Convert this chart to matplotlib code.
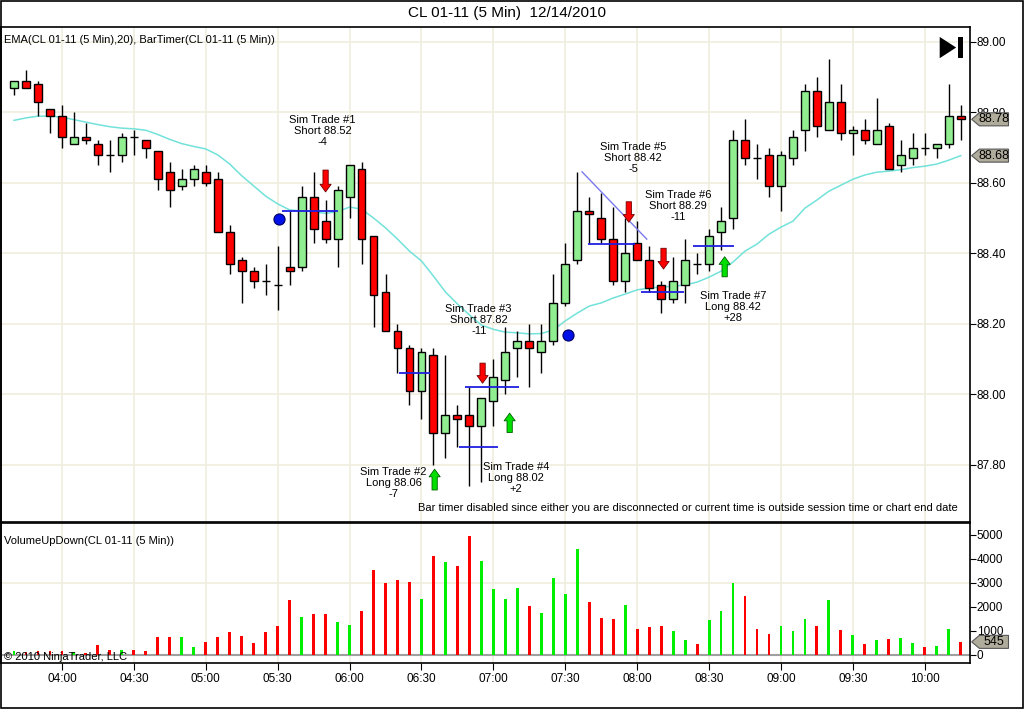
import numpy as np
import pandas as pd
import matplotlib
matplotlib.use('Agg')
import matplotlib.pyplot as plt
import matplotlib.transforms as mtransforms
from matplotlib.patches import Polygon, Rectangle
from matplotlib.text import Text

plt.rcParams['font.family'] = ['Liberation Sans', 'DejaVu Sans']

# 5 min bars, 03:40 .. 10:15
bar_times = pd.date_range('2010-12-14 03:40', periods=80, freq='5min')

opens = [88.87, 88.89, 88.88, 88.81, 88.79, 88.71, 88.73, 88.71, 88.68, 88.68,
         88.73, 88.72, 88.69, 88.63, 88.59, 88.61, 88.63, 88.61, 88.46, 88.38,
         88.35, 88.32, 88.31, 88.36, 88.36, 88.56, 88.49, 88.44, 88.56, 88.64,
         88.45, 88.29, 88.18, 88.13, 88.01, 88.11, 87.89, 87.94, 87.94, 87.91,
         87.98, 88.04, 88.13, 88.15, 88.12, 88.15, 88.26, 88.38, 88.52, 88.50,
         88.44, 88.32, 88.43, 88.38, 88.31, 88.27, 88.31, 88.37, 88.37, 88.46,
         88.50, 88.72, 88.67, 88.68, 88.59, 88.67, 88.75, 88.86, 88.75, 88.83,
         88.74, 88.75, 88.71, 88.76, 88.65, 88.67, 88.70, 88.70, 88.71, 88.79]
highs = [88.89, 88.92, 88.89, 88.81, 88.82, 88.80, 88.77, 88.72, 88.72, 88.74,
         88.75, 88.72, 88.69, 88.66, 88.64, 88.65, 88.65, 88.63, 88.48, 88.39,
         88.36, 88.37, 88.42, 88.52, 88.59, 88.63, 88.55, 88.59, 88.65, 88.66,
         88.45, 88.34, 88.20, 88.14, 88.13, 88.13, 88.11, 87.97, 88.02, 87.99,
         88.10, 88.19, 88.18, 88.20, 88.20, 88.34, 88.43, 88.63, 88.56, 88.57,
         88.53, 88.50, 88.49, 88.42, 88.32, 88.39, 88.44, 88.40, 88.47, 88.53,
         88.75, 88.78, 88.71, 88.70, 88.69, 88.75, 88.88, 88.90, 88.95, 88.88,
         88.76, 88.78, 88.84, 88.77, 88.72, 88.74, 88.74, 88.71, 88.88, 88.82]
lows = [88.85, 88.87, 88.79, 88.74, 88.70, 88.71, 88.71, 88.65, 88.63, 88.66,
        88.68, 88.67, 88.58, 88.53, 88.58, 88.59, 88.59, 88.46, 88.34, 88.26,
        88.30, 88.28, 88.24, 88.31, 88.35, 88.43, 88.43, 88.36, 88.50, 88.37,
        88.19, 88.18, 88.06, 87.97, 87.93, 87.80, 87.82, 87.85, 87.74, 87.75,
        87.91, 88.00, 88.05, 88.02, 88.06, 88.14, 88.25, 88.37, 88.43, 88.43,
        88.31, 88.29, 88.38, 88.29, 88.23, 88.26, 88.26, 88.34, 88.35, 88.41,
        88.47, 88.65, 88.61, 88.56, 88.52, 88.65, 88.69, 88.73, 88.75, 88.72,
        88.68, 88.71, 88.71, 88.64, 88.63, 88.65, 88.68, 88.67, 88.70, 88.72]
closes = [88.89, 88.87, 88.83, 88.79, 88.73, 88.73, 88.72, 88.68, 88.68, 88.73,
          88.73, 88.70, 88.61, 88.58, 88.61, 88.64, 88.60, 88.46, 88.37, 88.35,
          88.32, 88.32, 88.31, 88.35, 88.56, 88.47, 88.44, 88.58, 88.65, 88.44,
          88.28, 88.18, 88.13, 88.01, 88.12, 87.89, 87.94, 87.93, 87.91, 87.99,
          88.05, 88.12, 88.15, 88.13, 88.15, 88.26, 88.37, 88.52, 88.51, 88.44,
          88.32, 88.40, 88.38, 88.30, 88.27, 88.32, 88.38, 88.37, 88.45, 88.49,
          88.72, 88.67, 88.67, 88.59, 88.68, 88.73, 88.86, 88.76, 88.83, 88.74,
          88.75, 88.72, 88.75, 88.64, 88.68, 88.70, 88.70, 88.71, 88.79, 88.78]

ema20 = [88.777, 88.784, 88.789, 88.789, 88.786, 88.779, 88.772, 88.765, 88.759, 88.755,
         88.753, 88.749, 88.737, 88.723, 88.711, 88.703, 88.696, 88.679, 88.653, 88.620,
         88.591, 88.562, 88.540, 88.523, 88.520, 88.518, 88.513, 88.518, 88.531, 88.525,
         88.500, 88.472, 88.440, 88.406, 88.378, 88.335, 88.290, 88.256, 88.225, 88.196,
         88.184, 88.176, 88.174, 88.171, 88.172, 88.182, 88.208, 88.230, 88.250, 88.259,
         88.273, 88.284, 88.296, 88.301, 88.304, 88.306, 88.310, 88.318, 88.332, 88.349,
         88.375, 88.406, 88.426, 88.454, 88.474, 88.491, 88.528, 88.551, 88.576, 88.593,
         88.610, 88.622, 88.630, 88.633, 88.637, 88.643, 88.647, 88.653, 88.664, 88.677]

volume = [166, 125, 166, 166, 166, 125, 83, 415, 208, 208,
          208, 166, 748, 748, 748, 332, 540, 748, 956, 789,
          499, 956, 1205, 2285, 1579, 1704, 1704, 1371, 1247, 1828,
          3532, 2992, 3116, 3033, 2327, 4113, 3864, 3698, 4944, 3906,
          2742, 2327, 2784, 2036, 1745, 3199, 2535, 4404, 2202, 1537,
          1496, 2078, 1080, 1163, 1205, 997, 623, 457, 1454, 1828,
          2992, 2451, 1080, 873, 1205, 997, 1496, 1205, 2285, 1039,
          831, 457, 623, 665, 706, 499, 332, 374, 1080, 545]

time_ticks = ['04:00', '04:30', '05:00', '05:30', '06:00', '06:30', '07:00',
              '07:30', '08:00', '08:30', '09:00', '09:30', '10:00']
price_ticks = [87.80, 88.00, 88.20, 88.40, 88.60, 88.80, 89.00]
volume_ticks = [0, 1000, 2000, 3000, 4000, 5000]

# sim trades: label, side, entry line level
trade_texts = ['Sim Trade #1\nShort 88.52\n-4', 'Sim Trade #2\nLong 88.06\n-7',
               'Sim Trade #3\nShort 87.82\n-11', 'Sim Trade #4\nLong 88.02\n+2',
               'Sim Trade #5\nShort 88.42\n-5', 'Sim Trade #6\nShort 88.29\n-11',
               'Sim Trade #7\nLong 88.42\n+28']
trade_side = ['short', 'long', 'short', 'long', 'short', 'short', 'long']
trade_level = [88.52, 88.06, 87.85, 88.02, 88.425, 88.29, 88.42]
dot_prices = [88.497, 88.168]

GRID = '#efedde'
GREEN_BODY = '#90ee90'
RED = '#ff0000'
VGREEN = '#00ee00'


def price_box(ax, y, text, half):
    # drawn at figure level so it sits on top of the tick labels
    fig = ax.figure
    trans = mtransforms.blended_transform_factory(ax.transAxes, ax.transData)
    pts = [(1.002, y), (1.010, y + half), (1.040, y + half), (1.040, y - half), (1.010, y - half)]
    fig.add_artist(Polygon(pts, closed=True, fc='#b0ac9c', ec='#555555', lw=0.8,
                           transform=trans, zorder=6))
    fig.add_artist(Text(1.025, y, text, transform=trans, ha='center', va='center',
                        fontsize=9, zorder=7))


def run():
    x = np.arange(len(closes))
    o = np.array(opens)
    c = np.array(closes)
    up = c > o
    tick_pos = [list(bar_times.strftime('%H:%M')).index(t) for t in time_ticks]

    fig = plt.figure(figsize=(10.24, 7.09), dpi=100)
    ax = fig.add_axes([0.001, 0.2637, 0.946, 0.6982])
    axv = fig.add_axes([0.001, 0.0649, 0.946, 0.1975], sharex=ax)
    fig.add_artist(Rectangle((0.0005, 0.001), 0.9985, 0.998, transform=fig.transFigure,
                             fill=False, ec='black', lw=1.2))

    fig.text(0.495, 0.982, 'CL 01-11 (5 Min)  12/14/2010', ha='center', va='center', fontsize=11)

    # price panel
    ax.vlines(x, lows, highs, color='black', lw=1, zorder=3)
    ax.bar(x, np.abs(c - o), bottom=np.minimum(o, c), width=0.66,
           color=np.where(up, GREEN_BODY, RED), edgecolor='black', linewidth=1, zorder=4)
    ax.plot(x, ema20, color='#72e2da', lw=1.1, zorder=2)

    ax.set_xlim(-1.083, 79.75)
    ax.set_ylim(87.637, 89.042)
    ax.set_xticks(tick_pos)
    ax.set_yticks(price_ticks)
    ax.yaxis.tick_right()
    ax.set_yticklabels(['%.2f' % p for p in price_ticks])
    ax.tick_params(axis='x', length=0, labelbottom=False)
    ax.tick_params(axis='y', direction='out', length=4, labelsize=8.5, pad=1)
    ax.grid(True, color=GRID, lw=1.2, zorder=0)
    ax.set_axisbelow(True)

    # trade lines
    line_spans = [(22.4, 27.0), (32.1, 34.75), (37.1, 40.4), (37.6, 42.1),
                  (47.9, 51.8), (52.3, 55.9), (56.7, 60.1)]
    for lvl, (a, b) in zip(trade_level, line_spans):
        ax.hlines(lvl, a, b, color='#1f1fe0', lw=1.3, zorder=5)
    ax.plot([47.4, 52.8], [88.631, 88.440], color='#7a7af0', lw=1, zorder=5)

    # arrows
    arrow_at = [(26.0, 88.636, 88.574), (35.1, 87.728, 87.787), (39.1, 88.088, 88.031),
                (41.36, 87.891, 87.946), (51.3, 88.546, 88.488), (54.2, 88.414, 88.355),
                (59.3, 88.333, 88.390)]
    for side, (k, tail, tip) in zip(trade_side, arrow_at):
        fc, ec = (RED, '#700000') if side == 'short' else ('#00e000', '#006000')
        ax.annotate('', xy=(k, tip), xytext=(k, tail),
                    arrowprops=dict(arrowstyle='simple,head_length=0.55,head_width=0.8,tail_width=0.38',
                                    mutation_scale=10, fc=fc, ec=ec, lw=0.6,
                                    shrinkA=0, shrinkB=0), zorder=6)

    text_at = [(25.75, 88.747), (31.67, 87.748), (38.78, 88.21), (41.9, 87.762),
               (51.67, 88.67), (55.4, 88.534), (60.0, 88.247)]
    for t, (k, p) in zip(trade_texts, text_at):
        ax.text(k, p, t, ha='center', va='center', fontsize=8, linespacing=1.15, zorder=7)

    ax.plot([22.1, 46.2], dot_prices, 'o', ms=8, color='#0010e8', mec='#000060', mew=0.8,
            ls='none', zorder=6)

    ax.text(0.003, 0.974, 'EMA(CL 01-11 (5 Min),20), BarTimer(CL 01-11 (5 Min))',
            transform=ax.transAxes, ha='left', va='center', fontsize=8)
    ax.text(0.988, 0.028, 'Bar timer disabled since either you are disconnected or current '
            'time is outside session time or chart end date',
            transform=ax.transAxes, ha='right', va='center', fontsize=8)

    # playback icon
    ax.add_patch(Polygon([(0.969, 0.98), (0.969, 0.937), (0.986, 0.9585)], closed=True,
                         fc='black', transform=ax.transAxes, zorder=7))
    ax.add_patch(Rectangle((0.988, 0.937), 0.005, 0.043, fc='black', transform=ax.transAxes, zorder=7))

    price_box(ax, closes[-1], '%.2f' % closes[-1], 0.0185)
    price_box(ax, ema20[-1], '%.2f' % ema20[-1], 0.0185)

    # volume panel
    axv.bar(x, volume, width=0.24, color=np.where(up, VGREEN, RED), zorder=3)
    axv.axhline(0, color='#a0a0a0', lw=1.5, zorder=2)
    axv.axhline(3000, color=GRID, lw=1.2, zorder=0)
    axv.set_ylim(-332, 5484)
    axv.set_yticks(volume_ticks)
    axv.yaxis.tick_right()
    axv.set_xticks(tick_pos)
    axv.set_xticklabels(time_ticks)
    axv.tick_params(axis='both', direction='out', length=5, labelsize=8.5, pad=2)
    axv.tick_params(axis='y', length=4, pad=1)
    axv.grid(True, axis='x', color=GRID, lw=1.2, zorder=0)
    axv.set_axisbelow(True)
    axv.text(0.003, 0.871, 'VolumeUpDown(CL 01-11 (5 Min))', transform=axv.transAxes,
             ha='left', va='center', fontsize=8)
    axv.text(0.003, 0.045, '\u00a9 2010 NinjaTrader, LLC', transform=axv.transAxes,
             ha='left', va='center', fontsize=8, zorder=8)
    price_box(axv, volume[-1], str(volume[-1]), 270)

    for a in (ax, axv):
        for s in a.spines.values():
            s.set_linewidth(1.2)

    fig.savefig('out.png', dpi=100)


if __name__ == '__main__':
    run()
